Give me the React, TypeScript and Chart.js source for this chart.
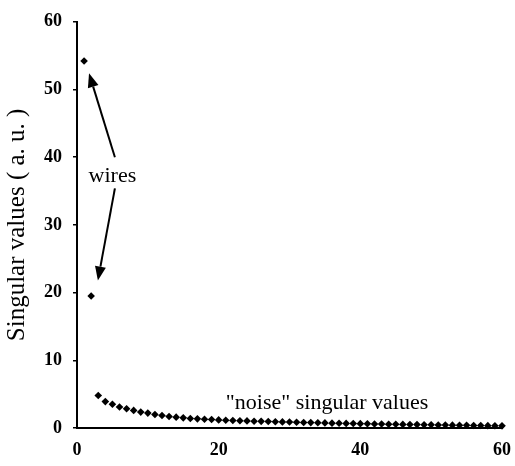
import React, { useEffect, useRef } from 'react';
import { Chart, registerables } from 'chart.js';

Chart.register(...registerables);

// Singular value index (1..60)
const indices: number[] = [
  1, 2, 3, 4, 5, 6, 7, 8, 9, 10,
  11, 12, 13, 14, 15, 16, 17, 18, 19, 20,
  21, 22, 23, 24, 25, 26, 27, 28, 29, 30,
  31, 32, 33, 34, 35, 36, 37, 38, 39, 40,
  41, 42, 43, 44, 45, 46, 47, 48, 49, 50,
  51, 52, 53, 54, 55, 56, 57, 58, 59, 60,
];

// Singular values (a. u.)
const singularValues: number[] = [
  54.2, 19.5, 4.8, 3.9, 3.5, 3.1, 2.85, 2.6, 2.35, 2.2,
  2.0, 1.85, 1.7, 1.6, 1.5, 1.4, 1.35, 1.3, 1.25, 1.2,
  1.15, 1.1, 1.08, 1.05, 1.0, 0.98, 0.95, 0.92, 0.9, 0.88,
  0.85, 0.82, 0.8, 0.78, 0.75, 0.72, 0.7, 0.68, 0.66, 0.64,
  0.62, 0.6, 0.58, 0.56, 0.55, 0.53, 0.51, 0.5, 0.48, 0.47,
  0.45, 0.44, 0.42, 0.41, 0.4, 0.38, 0.36, 0.35, 0.33, 0.32,
];

const xTickValues: number[] = [0, 20, 40, 60];
const yTickValues: number[] = [0, 10, 20, 30, 40, 50, 60];

const yAxisTitle = 'Singular values ( a. u. )';

// Annotation arrows in data coordinates: [fromX, fromY] -> [toX, toY]
const arrowFrom: [number, number][] = [[5.35, 40.0], [5.35, 35.4]];
const arrowTo: [number, number][] = [[1.7, 52.4], [2.95, 21.8]];

const annotationTexts: string[] = ['wires', '"noise" singular values'];
const annotationAt: [number, number][] = [[5.0, 37.2], [35.3, 3.6]];

const SERIF = '"Liberation Serif", "Times New Roman", serif';

function drawArrow(ctx: CanvasRenderingContext2D, x1: number, y1: number, x2: number, y2: number) {
  const ang = Math.atan2(y2 - y1, x2 - x1);
  const headLen = 14;
  const headW = 5.5;
  const bx = x2 - headLen * Math.cos(ang);
  const by = y2 - headLen * Math.sin(ang);
  ctx.beginPath();
  ctx.moveTo(x1, y1);
  ctx.lineTo(bx, by);
  ctx.lineWidth = 2;
  ctx.stroke();
  ctx.beginPath();
  ctx.moveTo(x2, y2);
  ctx.lineTo(bx + headW * Math.sin(ang), by - headW * Math.cos(ang));
  ctx.lineTo(bx - headW * Math.sin(ang), by + headW * Math.cos(ang));
  ctx.closePath();
  ctx.fill();
}

const annotationPlugin = {
  id: 'annotationPlugin',
  afterDatasetsDraw(chart: any) {
    const { ctx, scales } = chart;
    const xs = scales.x;
    const ys = scales.y;
    ctx.save();
    ctx.fillStyle = '#000';
    ctx.strokeStyle = '#000';
    for (let i = 0; i < arrowFrom.length; i++) {
      drawArrow(
        ctx,
        xs.getPixelForValue(arrowFrom[i][0]),
        ys.getPixelForValue(arrowFrom[i][1]),
        xs.getPixelForValue(arrowTo[i][0]),
        ys.getPixelForValue(arrowTo[i][1])
      );
    }
    ctx.font = `22px ${SERIF}`;
    ctx.textAlign = 'center';
    ctx.textBaseline = 'middle';
    for (let i = 0; i < annotationTexts.length; i++) {
      ctx.fillText(
        annotationTexts[i],
        xs.getPixelForValue(annotationAt[i][0]),
        ys.getPixelForValue(annotationAt[i][1])
      );
    }
    ctx.restore();
  },
};

export default function App() {
  const canvasRef = useRef<HTMLCanvasElement | null>(null);

  useEffect(() => {
    if (!canvasRef.current) return;
    const points = indices.map((x, i) => ({ x, y: singularValues[i] }));
    const chart = new Chart(canvasRef.current, {
      type: 'scatter',
      data: {
        datasets: [
          {
            data: points,
            pointStyle: 'rectRot',
            pointRadius: 3.8,
            backgroundColor: '#000',
            borderColor: '#000',
            borderWidth: 0,
            showLine: false,
            clip: false,
          } as any,
        ],
      },
      options: {
        animation: false,
        responsive: false,
        devicePixelRatio: 1,
        layout: { padding: { top: 16, right: 11, bottom: 0, left: 0 } },
        plugins: {
          legend: { display: false },
          tooltip: { enabled: false },
        },
        scales: {
          x: {
            type: 'linear',
            min: 0,
            max: 60,
            afterFit: (scale: any) => {
              scale.height = 38;
            },
            afterBuildTicks: (scale: any) => {
              scale.ticks = xTickValues.map((v) => ({ value: v }));
            },
            grid: { display: false },
            border: { display: true, color: '#000', width: 2 },
            ticks: {
              color: '#000',
              padding: 4,
              maxRotation: 0,
              font: { family: SERIF, size: 18, weight: 'bold' },
            },
          },
          y: {
            type: 'linear',
            min: 0,
            max: 60,
            afterFit: (scale: any) => {
              scale.width = 77;
            },
            afterBuildTicks: (scale: any) => {
              scale.ticks = yTickValues.map((v) => ({ value: v }));
            },
            grid: {
              display: true,
              drawOnChartArea: false,
              drawTicks: true,
              tickLength: 4,
              color: '#000',
              lineWidth: 1.5,
            },
            border: { display: true, color: '#000', width: 2 },
            ticks: {
              color: '#000',
              padding: 11,
              font: { family: SERIF, size: 18, weight: 'bold' },
            },
            title: {
              display: true,
              text: yAxisTitle,
              color: '#000',
              padding: { top: 2, bottom: 0 },
              font: { family: SERIF, size: 25, weight: 'normal', lineHeight: 1.2 },
            },
          },
        },
      },
      plugins: [annotationPlugin],
    });
    return () => chart.destroy();
  }, []);

  return (
    <div style={{ position: 'absolute', left: 0, top: 0, width: 515, height: 466, background: '#fff' }}>
      <canvas ref={canvasRef} width={515} height={466} style={{ display: 'block' }} />
    </div>
  );
}
